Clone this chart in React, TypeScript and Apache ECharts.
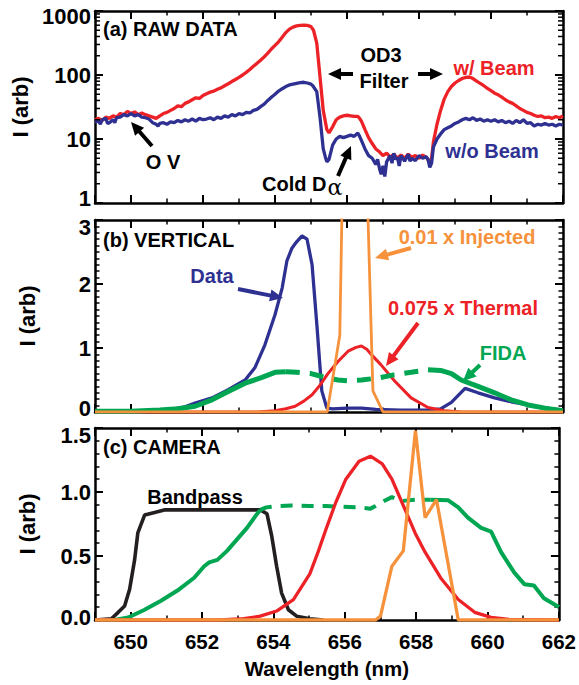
import React, { useEffect, useRef } from "react";
import * as echarts from "echarts";

// ---------- DATA ----------
// Panel (a) RAW DATA, log scale
const withBeam: [number, number][] = [
  [649.0, 20], [649.1, 21], [649.2, 19.5], [649.3, 22], [649.4, 21], [649.5, 23], [649.6, 22], [649.7, 25],
  [649.8, 24], [649.9, 27], [650.0, 25], [650.1, 26.5], [650.2, 24], [650.3, 25.5], [650.4, 24], [650.5, 23],
  [650.6, 22], [650.7, 21], [650.8, 23], [650.9, 25], [651.0, 26], [651.1, 28], [651.2, 30], [651.3, 33],
  [651.4, 32], [651.5, 36], [651.6, 38], [651.7, 41], [651.8, 44], [651.9, 43], [652.0, 48], [652.1, 51],
  [652.2, 54], [652.3, 56], [652.4, 60], [652.5, 63], [652.6, 68], [652.7, 73], [652.8, 79], [652.9, 85],
  [653.0, 92], [653.1, 100], [653.2, 110], [653.3, 122], [653.4, 137], [653.5, 152], [653.6, 170], [653.7, 192],
  [653.8, 220], [653.9, 255], [654.0, 290], [654.1, 330], [654.2, 390], [654.3, 460], [654.4, 520], [654.5, 560],
  [654.6, 585], [654.7, 595], [654.8, 600], [654.9, 595], [655.0, 570], [655.07, 500], [655.16, 315], [655.25, 94],
  [655.34, 28], [655.44, 14], [655.5, 12.5], [655.6, 15.5], [655.7, 20], [655.8, 22], [655.9, 23], [656.0, 23.5],
  [656.1, 23], [656.2, 22.5], [656.3, 22.5], [656.35, 21], [656.4, 19], [656.5, 14], [656.6, 10.5], [656.7, 8.5],
  [656.8, 7], [656.9, 6.3], [657.0, 5.5], [657.1, 6], [657.2, 5.2], [657.3, 5.8], [657.4, 5], [657.5, 5.6],
  [657.6, 5], [657.7, 5.8], [657.8, 5.2], [657.9, 5.5], [658.0, 5], [658.1, 5.6], [658.2, 5.2], [658.3, 4.3],
  [658.35, 5], [658.4, 9], [658.5, 17], [658.6, 28], [658.7, 42], [658.8, 55], [658.9, 66], [659.0, 75],
  [659.1, 82], [659.2, 88], [659.3, 92], [659.4, 93], [659.5, 88], [659.6, 80], [659.7, 74], [659.8, 68],
  [659.9, 62], [660.0, 57], [660.1, 52], [660.2, 49], [660.3, 45], [660.4, 41], [660.5, 38], [660.6, 36],
  [660.7, 33], [660.8, 30], [660.9, 28], [661.0, 26], [661.1, 25], [661.2, 23.5], [661.3, 22.5], [661.4, 23],
  [661.5, 21.5], [661.6, 22], [661.7, 21], [661.8, 22.5], [661.9, 21.5], [662.0, 23],
];

const withoutBeam: [number, number][] = [
  [649.0, 18.5], [649.1, 19], [649.15, 17], [649.2, 20], [649.3, 21], [649.35, 17.5], [649.4, 18], [649.5, 20],
  [649.55, 18], [649.6, 21.5], [649.7, 22], [649.8, 24], [649.9, 23], [650.0, 25], [650.1, 23], [650.2, 24],
  [650.3, 22], [650.4, 21.5], [650.5, 20.5], [650.6, 18], [650.7, 17], [650.75, 16], [650.8, 17.5], [650.9, 18],
  [651.0, 17], [651.1, 18.5], [651.2, 18], [651.3, 19.5], [651.4, 18.5], [651.5, 20], [651.6, 19], [651.7, 20.5],
  [651.8, 19], [651.9, 21], [652.0, 20], [652.1, 20.5], [652.2, 21.5], [652.3, 20], [652.4, 22], [652.5, 21],
  [652.6, 23], [652.7, 22], [652.8, 24], [652.9, 23], [653.0, 25], [653.1, 24], [653.2, 26], [653.3, 25.5],
  [653.4, 28], [653.5, 29], [653.6, 32], [653.7, 35], [653.8, 40], [653.9, 45], [654.0, 50], [654.1, 56],
  [654.2, 61], [654.3, 66], [654.4, 70], [654.5, 72], [654.6, 74], [654.7, 76], [654.8, 77], [654.9, 75],
  [655.0, 72], [655.05, 68], [655.16, 55], [655.25, 22], [655.34, 7], [655.4, 5.2], [655.44, 4.4], [655.5, 4.8],
  [655.6, 8], [655.7, 10], [655.8, 11], [655.9, 10.5], [656.0, 11], [656.1, 11.5], [656.2, 11], [656.3, 12.4],
  [656.35, 11], [656.4, 9.5], [656.5, 7], [656.6, 5.5], [656.7, 5], [656.8, 4], [656.85, 4.8], [656.9, 3.5],
  [656.95, 2.8], [657.0, 3.8], [657.05, 2.6], [657.1, 4.4], [657.2, 5.5], [657.25, 4.2], [657.3, 6], [657.35, 4.8],
  [657.4, 5.2], [657.45, 3.8], [657.5, 5.5], [657.6, 4.5], [657.7, 5.8], [657.75, 4.5], [657.8, 5], [657.9, 4.6],
  [658.0, 5.5], [658.1, 5], [658.2, 5.3], [658.25, 4.8], [658.3, 3.6], [658.35, 4.2], [658.4, 7.5], [658.5, 10],
  [658.6, 12], [658.7, 14], [658.8, 15], [658.9, 16], [659.0, 17.5], [659.1, 18.5], [659.2, 20], [659.3, 21],
  [659.4, 20], [659.5, 21.5], [659.6, 19.5], [659.7, 20.5], [659.8, 19], [659.9, 20], [660.0, 19], [660.1, 20],
  [660.2, 18.5], [660.3, 19.5], [660.4, 18], [660.5, 19], [660.6, 17.5], [660.7, 19.5], [660.8, 18], [660.9, 20],
  [661.0, 17.5], [661.1, 18], [661.2, 16], [661.3, 17], [661.4, 16.5], [661.5, 17.5], [661.6, 16.5], [661.7, 17],
  [661.8, 16], [661.9, 17], [662.0, 16.5],
];

// Panel (b) VERTICAL
const vertData: [number, number][] = [
  [649, 0], [650, 0.0], [650.5, 0.01], [651, 0.03], [651.5, 0.08], [651.78, 0.14], [652.25, 0.22], [652.7, 0.35],
  [653.17, 0.5], [653.44, 0.69], [653.72, 1.05], [654.0, 1.52], [654.2, 1.94], [654.33, 2.36], [654.47, 2.56],
  [654.6, 2.66], [654.75, 2.75], [654.89, 2.7], [655.03, 2.3], [655.17, 1.31], [655.3, 0.33], [655.44, 0.06],
  [655.6, 0.05], [656.0, 0.06], [656.4, 0.06], [656.8, 0.04], [657.5, 0.03], [658.2, 0.03], [658.6, 0.05],
  [658.9, 0.15], [659.28, 0.37], [659.64, 0.3], [660.1, 0.22], [660.56, 0.16], [661.03, 0.11], [661.5, 0.06],
  [662, 0.03],
];
const vertFidaA: [number, number][] = [
  [649, 0.01], [650, 0.01], [650.8, 0.03], [651.3, 0.05], [651.78, 0.09], [652.25, 0.19], [652.7, 0.32],
  [653.17, 0.45], [653.64, 0.54], [654.0, 0.62], [654.3, 0.63],
];
const vertFidaB: [number, number][] = [
  [654.3, 0.63], [654.6, 0.62], [655.0, 0.6], [655.2, 0.57], [655.47, 0.53], [655.75, 0.5], [656.0, 0.49],
  [656.4, 0.5], [656.85, 0.53], [657.3, 0.58], [657.78, 0.62], [658.25, 0.66],
];
const vertFidaC: [number, number][] = [
  [658.25, 0.66], [658.6, 0.65], [658.9, 0.6], [659.17, 0.5], [659.64, 0.4], [660.1, 0.3], [660.56, 0.19],
  [661.03, 0.11], [661.5, 0.06], [662, 0.02],
];
const vertThermal: [number, number][] = [
  [649, 0], [653.5, 0], [654.0, 0.02], [654.3, 0.05], [654.56, 0.09], [654.8, 0.17], [655.03, 0.27], [655.25, 0.42],
  [655.47, 0.6], [655.75, 0.79], [656.03, 0.95], [656.25, 1.01], [656.4, 1.03], [656.55, 0.98], [656.67, 0.9],
  [656.94, 0.74], [657.33, 0.48], [657.78, 0.22], [658.25, 0.07], [658.7, 0.02], [659.2, 0], [662, 0],
];
const vertInjected: [number, number][] = [
  [649, 0], [655.45, 0], [655.8, 1.2], [655.95, 6], [656.3, 9], [656.58, 3.1], [656.72, 0.33], [657.0, 0], [662, 0],
];

// Panel (c) CAMERA
const camBandpass: [number, number][] = [
  [649, 0], [649.46, 0.01], [649.65, 0.06], [649.83, 0.11], [649.97, 0.24], [650.11, 0.47], [650.2, 0.68],
  [650.39, 0.82], [650.67, 0.84], [650.94, 0.86], [652, 0.86], [653, 0.86], [653.63, 0.86], [653.82, 0.83],
  [653.95, 0.66], [654.09, 0.42], [654.23, 0.21], [654.42, 0.08], [654.65, 0.03], [655.02, 0.01], [655.4, 0],
];
const camFidaA: [number, number][] = [
  [649, 0], [649.55, 0], [649.93, 0.02], [650.39, 0.08], [650.85, 0.15], [651.31, 0.23], [651.78, 0.33],
  [652.06, 0.42], [652.2, 0.45], [652.43, 0.47], [652.7, 0.54], [652.98, 0.63], [653.26, 0.72], [653.49, 0.81],
  [653.63, 0.86],
];
const camFidaB: [number, number][] = [
  [653.63, 0.86], [653.8, 0.88], [654.09, 0.89], [654.5, 0.895], [655.0, 0.89], [655.48, 0.89], [655.93, 0.885],
  [656.4, 0.88], [656.72, 0.87], [656.86, 0.89], [657.1, 0.93], [657.32, 0.96], [657.6, 0.93], [658.0, 0.94],
  [658.4, 0.94],
];
const camFidaC: [number, number][] = [
  [658.4, 0.94], [658.9, 0.935], [659.18, 0.88], [659.45, 0.8], [659.82, 0.72], [660.1, 0.69], [660.38, 0.53],
  [660.75, 0.37], [661.03, 0.28], [661.3, 0.27], [661.58, 0.17], [661.95, 0.11], [662, 0.1],
];
const camThermal: [number, number][] = [
  [649, 0], [652.5, 0], [653.17, 0.01], [653.63, 0.03], [654.09, 0.07], [654.56, 0.16], [655.02, 0.36],
  [655.25, 0.53], [655.5, 0.73], [655.75, 0.92], [656.03, 1.1], [656.4, 1.24], [656.72, 1.28], [657.05, 1.22],
  [657.32, 1.1], [657.6, 0.92], [657.97, 0.68], [658.25, 0.53], [658.71, 0.32], [659.18, 0.16], [659.64, 0.06],
  [660.1, 0.02], [660.6, 0.005], [662, 0],
];
const camInjected: [number, number][] = [
  [649, 0], [656.86, 0], [657.0, 0.03], [657.32, 0.42], [657.64, 0.54], [657.98, 1.48], [658.25, 0.8],
  [658.57, 0.94], [659.18, 0], [662, 0],
];

// Log-axis minor tick values for panel (a)
const logMinorTicks = [2, 3, 4, 5, 6, 7, 8, 9, 20, 30, 40, 50, 60, 70, 80, 90, 200, 300, 400, 500, 600, 700, 800, 900];

// ---------- STYLE ----------
const RED = "#ec2227";
const BLUE = "#2e3192";
const GREEN = "#00a651";
const ORANGE = "#f6923c";
const BLACK = "#231f20";
const FONT = "'Liberation Sans', Arial, Helvetica, sans-serif";

function arrow(x1: number, y1: number, x2: number, y2: number, color: string) {
  const dx = x2 - x1, dy = y2 - y1;
  const L = Math.hypot(dx, dy);
  const ux = dx / L, uy = dy / L;
  const hl = 13, hw = 12;
  const bx = x2 - ux * hl, by = y2 - uy * hl;
  const px = -uy, py = ux;
  return [
    { type: "line", z: 100, shape: { x1, y1, x2: bx + ux * 2, y2: by + uy * 2 }, style: { stroke: color, lineWidth: 4 } },
    {
      type: "polygon", z: 100,
      shape: { points: [[x2, y2], [bx + (px * hw) / 2, by + (py * hw) / 2], [bx - (px * hw) / 2, by - (py * hw) / 2]] },
      style: { fill: color },
    },
  ];
}

function label(text: string, x: number, y: number, color: string, align = "center", size = 20) {
  return {
    type: "text", z: 100, x, y,
    style: { text, fill: color, fontSize: size, fontWeight: "bold", fontFamily: FONT, align, verticalAlign: "middle" },
  };
}

export default function App() {
  const ref = useRef<HTMLDivElement>(null);

  useEffect(() => {
    if (!ref.current) return;
    const chart = echarts.init(ref.current, null, { renderer: "svg" });

    const axisLine = { show: true, onZero: false, lineStyle: { color: "#000", width: 2.5 } };
    const tick = { show: true, inside: true, length: 8, lineStyle: { color: "#000", width: 2 } };
    const minor = (n: number) => ({ show: true, splitNumber: n, length: 4.5, lineStyle: { color: "#000", width: 1.5 } });
    const tickFont = { color: "#000", fontWeight: "bold", fontSize: 22, fontFamily: FONT };

    const grids = [
      { left: 95, top: 11, width: 468, height: 192 },
      { left: 95, top: 220, width: 468, height: 192 },
      { left: 95, top: 428, width: 468, height: 192 },
    ];

    const xAxes: any[] = [];
    grids.forEach((_, i) => {
      const base = {
        type: "value", min: 649, max: 662, splitNumber: 6, gridIndex: i,
        axisLine, axisTick: tick, minorTick: minor(2), splitLine: { show: false },
      };
      xAxes.push({
        ...base, position: "bottom",
        axisLabel: i === 2 ? { ...tickFont, fontSize: 20.5, margin: 11, showMinLabel: false } : { show: false },
        ...(i === 2
          ? {
              name: "Wavelength (nm)", nameLocation: "middle", nameGap: 38,
              nameTextStyle: { color: "#000", fontWeight: "bold", fontSize: 20.5, fontFamily: FONT },
            }
          : {}),
      });
      xAxes.push({ ...base, position: "top", axisLabel: { show: false } });
    });

    const yName = {
      name: "I (arb)", nameLocation: "middle", nameGap: 57,
      nameTextStyle: { color: "#000", fontWeight: "bold", fontSize: 22, fontFamily: FONT },
    };
    const yCfg = [
      { type: "log", logBase: 10, min: 1, max: 1000, minorTick: { show: false }, dp: -1, padT: 10, padB: 10 },
      { type: "value", min: 0, max: 3, interval: 1, minorTick: minor(10), dp: 0, padT: 14, padB: 8 },
      { type: "value", min: 0, max: 1.5, interval: 0.5, minorTick: minor(5), dp: 1, padT: 15, padB: 6 },
    ];
    const yAxes: any[] = [];
    yCfg.forEach((c, i) => {
      const { dp, padT, padB, ...rest } = c;
      const base = { ...rest, gridIndex: i, axisLine, axisTick: tick, splitLine: { show: false } };
      const fmt = (v: number) => {
        const s = dp < 0 ? String(v) : v.toFixed(dp);
        if (Math.abs(v - c.max) < 1e-9) return `{t|${s}}`;
        if (Math.abs(v - c.min) < 1e-9) return `{b|${s}}`;
        return `{n|${s}}`;
      };
      yAxes.push({
        ...base, position: "left",
        axisLabel: {
          ...tickFont, margin: 4, formatter: fmt,
          rich: {
            n: { ...tickFont },
            t: { ...tickFont, padding: [padT, 0, 0, 0] },
            b: { ...tickFont, padding: [0, 0, padB, 0] },
          },
        },
        ...yName,
      });
      yAxes.push({ ...base, position: "right", axisLabel: { show: false } });
    });

    const line = (data: [number, number][], g: number, color: string, width: number, dash?: number[], z = 2) => ({
      type: "line", xAxisIndex: g * 2, yAxisIndex: g * 2, data, showSymbol: false, symbol: "none",
      clip: true, z, silent: true,
      lineStyle: { color, width, type: dash ? dash : "solid" },
    });

    const series: any[] = [
      line(withBeam, 0, RED, 3.3, undefined, 2),
      line(withoutBeam, 0, BLUE, 3.3, undefined, 3),
      {
        type: "custom", xAxisIndex: 0, yAxisIndex: 0, silent: true, z: 5,
        data: logMinorTicks.map((v) => [649, v]),
        renderItem: (params: any, api: any) => {
          const p = api.coord([api.value(0), api.value(1)]);
          const cs = params.coordSys;
          return {
            type: "group",
            children: [
              { type: "line", shape: { x1: cs.x, y1: p[1], x2: cs.x + 5, y2: p[1] }, style: { stroke: "#000", lineWidth: 1.5 } },
              { type: "line", shape: { x1: cs.x + cs.width - 5, y1: p[1], x2: cs.x + cs.width, y2: p[1] }, style: { stroke: "#000", lineWidth: 1.5 } },
            ],
          };
        },
      },
      line(vertData, 1, BLUE, 3.3, undefined, 2),
      line(vertThermal, 1, RED, 3, undefined, 3),
      line(vertFidaA, 1, GREEN, 5, undefined, 4),
      line(vertFidaB, 1, GREEN, 5, [14, 10], 4),
      line(vertFidaC, 1, GREEN, 5, undefined, 4),
      line(vertInjected, 1, ORANGE, 2.8, undefined, 5),
      line(camBandpass, 2, BLACK, 3.6, undefined, 2),
      line(camFidaA, 2, GREEN, 4, undefined, 3),
      line(camFidaB, 2, GREEN, 4, [12, 9], 3),
      line(camFidaC, 2, GREEN, 4, undefined, 3),
      line(camThermal, 2, RED, 3.3, undefined, 4),
      line(camInjected, 2, ORANGE, 3.3, undefined, 5),
    ];

    const graphic: any[] = [
      label("(a) RAW DATA", 103, 29, "#000", "left"),
      label("O V", 163, 162, "#000"),
      ...arrow(152, 146, 131, 122, "#000"),
      {
        type: "text", z: 100, x: 262, y: 184,
        style: {
          text: "{a|Cold D}{b|α}", verticalAlign: "middle", align: "left",
          rich: {
            a: { fill: "#000", fontSize: 20, fontWeight: "bold", fontFamily: FONT },
            b: { fill: "#000", fontSize: 22, fontWeight: "normal", fontFamily: "'DejaVu Serif', serif", padding: [6, 0, 0, 1] },
          },
        },
      },
      ...arrow(338, 176, 351, 146, "#000"),
      label("OD3", 381, 55, "#000"),
      label("Filter", 384, 81, "#000"),
      ...arrow(353, 74, 328, 74, "#000"),
      ...arrow(418, 74, 443, 74, "#000"),
      label("w/ Beam", 494, 68, RED),
      label("w/o Beam", 492, 151, BLUE),

      label("(b) VERTICAL", 103, 240, "#000", "left"),
      label("Data", 212, 276, BLUE),
      ...arrow(238, 289, 283, 298, BLUE),
      label("0.01 x Injected", 467, 237, ORANGE),
      ...arrow(411, 248, 375, 258, ORANGE),
      label("0.075 x Thermal", 463, 308, RED),
      ...arrow(418, 323, 386, 366, RED),
      label("FIDA", 503, 353, GREEN),
      ...arrow(480, 365, 463, 381, GREEN),

      label("(c) CAMERA", 103, 447, "#000", "left"),
      label("Bandpass", 195, 497, "#000"),
    ];

    chart.setOption({
      animation: false,
      backgroundColor: "#fff",
      grid: grids,
      xAxis: xAxes,
      yAxis: yAxes,
      series,
      graphic,
    });

    return () => chart.dispose();
  }, []);

  return <div ref={ref} style={{ position: "absolute", left: 0, top: 0, width: 579, height: 685 }} />;
}
